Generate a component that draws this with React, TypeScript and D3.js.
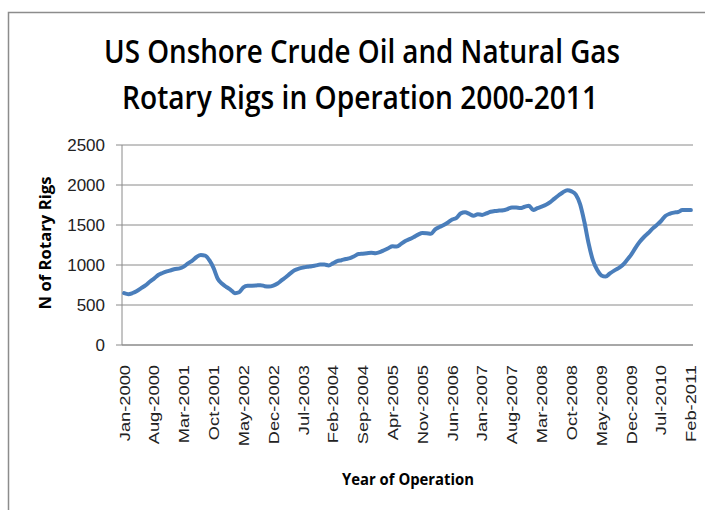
import React from "react";
import * as d3 from "d3";

const months: string[] = ["Jan","Feb","Mar","Apr","May","Jun","Jul","Aug","Sep","Oct","Nov","Dec"];
const categories: string[] = [];
for (let y = 2000; y <= 2011; y++) {
  for (let m = 0; m < 12; m++) {
    if (y === 2011 && m > 1) break;
    categories.push(`${months[m]}-${y}`);
  }
}

const rigs: number[] = [
  648, 635, 650, 675, 710, 745, 790, 830, 875, 900, 920, 935,
  950, 957, 980, 1020, 1055, 1100, 1125, 1118, 1060, 960, 825, 765,
  725, 690, 648, 660, 720, 740, 742, 745, 748, 735, 730, 742,
  768, 810, 850, 895, 935, 955, 968, 978, 985, 995, 1005, 1005,
  995, 1020, 1048, 1060, 1075, 1085, 1110, 1137, 1142, 1147, 1152, 1148,
  1160, 1185, 1210, 1235, 1230, 1265, 1300, 1323, 1350, 1380, 1400, 1398,
  1390, 1446, 1475, 1500, 1532, 1568, 1590, 1645, 1658, 1640, 1615, 1635,
  1626, 1645, 1665, 1675, 1680, 1684, 1700, 1720, 1718, 1712, 1728, 1740,
  1687, 1710, 1730, 1752, 1785, 1830, 1872, 1910, 1935, 1920, 1880, 1760,
  1540, 1271, 1060, 940, 870, 855, 895, 930, 960, 1000, 1062, 1130,
  1215, 1290, 1350, 1400, 1455, 1500, 1550, 1612, 1640, 1655, 1662, 1688,
  1688, 1686
];

const yTicks: number[] = [0, 500, 1000, 1500, 2000, 2500];
const labelEvery = 7;
const titleLines: string[] = [
  "US Onshore Crude Oil and Natural Gas",
  "Rotary Rigs in Operation 2000-2011",
];

export default function App() {
  const W = 705, H = 510;
  const left = 122, right = 693, top = 145, bottom = 345;
  const x = d3.scaleBand<number>().domain(d3.range(categories.length)).range([left, right]).padding(0);
  const cx = (i: number) => (x(i) as number) + x.bandwidth() / 2;
  const y = d3.scaleLinear().domain([0, 2500]).range([bottom, top]);
  const line = d3.line<number>().x((_, i) => cx(i)).y((d) => y(d)).curve(d3.curveMonotoneX);
  const labelIdx = d3.range(0, categories.length, labelEvery);
  const font = "'Liberation Sans', Arial, sans-serif";
  const titleFont = "'Open Sans', 'Liberation Sans', sans-serif";

  return (
    <svg width={W} height={H} style={{ position: "absolute", left: 0, top: 0, background: "#fff" }}>
      <rect x={8.5} y={12.5} width={800} height={600} fill="#fff" stroke="#8c8c8c" strokeWidth={1.5} />
      <text transform="translate(362,63) scale(1,1.15)" textAnchor="middle" fontFamily={titleFont} fontWeight={600} fontSize={28.5}
        textLength={516} lengthAdjust="spacingAndGlyphs" fill="#000">{titleLines[0]}</text>
      <text transform="translate(360,109) scale(1,1.15)" textAnchor="middle" fontFamily={titleFont} fontWeight={600} fontSize={28.5}
        textLength={476} lengthAdjust="spacingAndGlyphs" fill="#000">{titleLines[1]}</text>

      {yTicks.map((t) => (
        <g key={t}>
          <line x1={116} x2={right} y1={y(t)} y2={y(t)} stroke="#8a8a8a" strokeWidth={1} />
          <text x={105} y={y(t)} dy="0.36em" textAnchor="end" fontFamily={font} fontSize={17} fill="#222">{t}</text>
        </g>
      ))}
      <line x1={left} x2={left} y1={top} y2={bottom} stroke="#8a8a8a" strokeWidth={1} />
      <line x1={left} x2={right} y1={bottom} y2={bottom} stroke="#8a8a8a" strokeWidth={1} />

      <path d={line(rigs) || ""} fill="none" stroke="#4a7ebb" strokeWidth={4} strokeLinejoin="round" strokeLinecap="round" />

      {labelIdx.map((i) => (
        <text key={i} transform={`translate(${cx(i)},365) rotate(-90) scale(1.22,1)`} dy="0.36em" textAnchor="end"
          fontFamily={font} fontSize={15} fill="#222">{categories[i]}</text>
      ))}

      <text transform="translate(51,243) rotate(-90)" textAnchor="middle" fontFamily={titleFont} fontWeight={700}
        fontSize={16} textLength={133} lengthAdjust="spacingAndGlyphs" fill="#000">N of Rotary Rigs</text>
      <text x={408} y={485} textAnchor="middle" fontFamily={titleFont} fontWeight={700} fontSize={16}
        textLength={132} lengthAdjust="spacingAndGlyphs" fill="#000">Year of Operation</text>
    </svg>
  );
}
